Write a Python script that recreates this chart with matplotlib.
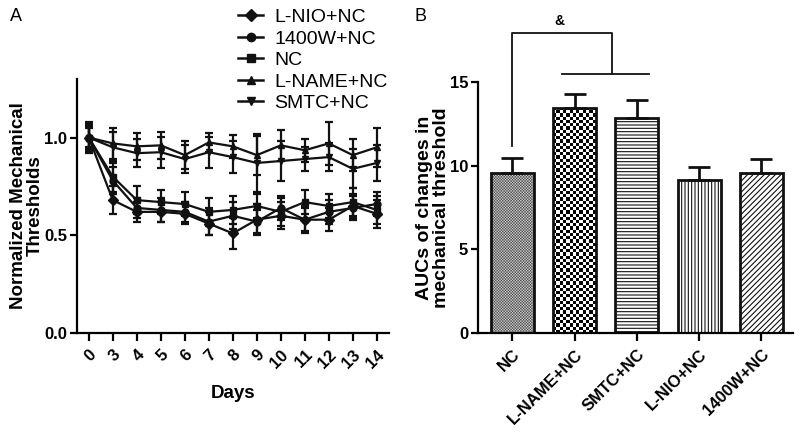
import numpy as np
import matplotlib
matplotlib.use("Agg")
import matplotlib.pyplot as plt
from matplotlib.lines import Line2D

plt.rcParams['font.family'] = ['Liberation Sans', 'DejaVu Sans']
plt.rcParams['hatch.linewidth'] = 0.8

# ---------------- data: panel A ----------------
days = ["0", "3", "4", "5", "6", "7", "8", "9", "10", "11", "12", "13", "14"]
lnio = [1.00, 0.68, 0.62, 0.62, 0.61, 0.56, 0.51, 0.58, 0.60, 0.58, 0.58, 0.65, 0.61]
lnio_err = [0.06, 0.07, 0.05, 0.05, 0.05, 0.06, 0.08, 0.08, 0.07, 0.06, 0.06, 0.06, 0.07]
w1400 = [1.00, 0.78, 0.64, 0.63, 0.62, 0.57, 0.60, 0.57, 0.64, 0.58, 0.62, 0.64, 0.66]
w1400_err = [0.05, 0.07, 0.05, 0.06, 0.05, 0.07, 0.07, 0.06, 0.06, 0.07, 0.06, 0.06, 0.06]
nc = [1.00, 0.80, 0.68, 0.67, 0.66, 0.62, 0.63, 0.65, 0.62, 0.67, 0.65, 0.67, 0.63]
nc_err = [0.08, 0.08, 0.07, 0.06, 0.06, 0.07, 0.07, 0.06, 0.07, 0.06, 0.06, 0.07, 0.07]
lname = [1.00, 0.97, 0.955, 0.96, 0.91, 0.975, 0.955, 0.91, 0.96, 0.935, 0.97, 0.91, 0.95]
lname_err = [0.06, 0.08, 0.07, 0.07, 0.07, 0.05, 0.06, 0.10, 0.08, 0.06, 0.11, 0.08, 0.10]
smtc = [1.00, 0.95, 0.92, 0.925, 0.89, 0.925, 0.90, 0.87, 0.88, 0.89, 0.90, 0.84, 0.87]
smtc_err = [0.07, 0.08, 0.07, 0.08, 0.07, 0.08, 0.08, 0.15, 0.10, 0.06, 0.07, 0.10, 0.09]

series = [
    ("L-NIO+NC", lnio, lnio_err, "D"),
    ("1400W+NC", w1400, w1400_err, "o"),
    ("NC", nc, nc_err, "s"),
    ("L-NAME+NC", lname, lname_err, "^"),
    ("SMTC+NC", smtc, smtc_err, "v"),
]

# ---------------- data: panel B ----------------
groups = ["NC", "L-NAME+NC", "SMTC+NC", "L-NIO+NC", "1400W+NC"]
auc = [9.58, 13.45, 12.85, 9.15, 9.58]
auc_err = [0.90, 0.85, 1.05, 0.80, 0.82]

fig = plt.figure(figsize=(8, 4.43), dpi=100)

# ---------------- panel A ----------------
axA = fig.add_axes([0.096, 0.248, 0.390, 0.574])
x = np.arange(len(days))
for name, vals, err, m in series:
    axA.errorbar(x, vals, yerr=err, color='#111111', marker=m, markersize=5,
                 linewidth=1.6, elinewidth=1.6, capsize=3, capthick=1.6, label=name)
axA.set_xlim(-0.5, len(days) - 0.5)
axA.set_ylim(0, 1.3)
axA.set_yticks([0.0, 0.5, 1.0])
axA.set_yticklabels(["0.0", "0.5", "1.0"], fontsize=12, fontweight='bold')
axA.set_xticks(x)
axA.set_xticklabels(days, rotation=45, fontsize=12, fontweight='bold',
                    ha='right', rotation_mode='anchor')
axA.spines['top'].set_visible(False)
axA.spines['right'].set_visible(False)
for s in ['left', 'bottom']:
    axA.spines[s].set_linewidth(1.6)
axA.tick_params(width=1.6, length=5, direction='out', pad=2)
axA.tick_params(axis='x', length=6, pad=4)
axA.set_xlabel("Days", fontsize=13.5, fontweight='bold', labelpad=10)
axA.set_ylabel("Normalized Mechanical\nThresholds", fontsize=13.5, fontweight='bold',
               linespacing=1.0, labelpad=0)

handles = [Line2D([0], [0], color='#111111', marker=m, markersize=6, linewidth=1.8)
           for _, _, _, m in series]
fig.legend(handles, [s[0] for s in series], loc='upper left',
           bbox_to_anchor=(0.288, 0.998), frameon=False, fontsize=14,
           handlelength=1.3, handletextpad=0.55, labelspacing=0.2, borderaxespad=0)

fig.text(0.012, 0.963, "A", fontsize=13, va='center')
fig.text(0.518, 0.963, "B", fontsize=13, va='center')

# ---------------- panel B ----------------
axB = fig.add_axes([0.5975, 0.248, 0.394, 0.567])
xb = np.arange(len(groups))
bars = axB.bar(xb, auc, width=0.69, facecolor='white', edgecolor='#111111',
               linewidth=2.0, zorder=2)
hatches = [None, None, '-----', '|||||', '//////']
for b, h in zip(bars, hatches):
    if h:
        b.set_hatch(h)
axB.errorbar(xb, auc, yerr=[np.zeros(len(auc)), auc_err], fmt='none',
             ecolor='#111111', elinewidth=2.0, capsize=8, capthick=2.0, zorder=3)
axB.set_xlim(-0.55, len(groups) - 0.49)
axB.set_ylim(0, 15)
axB.set_yticks([0, 5, 10, 15])
axB.set_yticklabels(["0", "5", "10", "15"], fontsize=12, fontweight='bold')
axB.set_xticks(xb)
axB.set_xticklabels(groups, rotation=45, fontsize=12, fontweight='bold',
                    ha='right', rotation_mode='anchor')
axB.spines['top'].set_visible(False)
axB.spines['right'].set_visible(False)
for s in ['left', 'bottom']:
    axB.spines[s].set_linewidth(1.6)
axB.tick_params(width=1.6, length=5, direction='out', pad=2)
axB.tick_params(axis='x', length=6, pad=4)
axB.set_ylabel("AUCs of changes in\nmechanical threshold", fontsize=14,
               fontweight='bold', linespacing=1.0, labelpad=0)

# checkerboard fills (NC fine, L-NAME coarse)
fig.canvas.draw()
for idx, sq in [(0, 1.4), (1, 3.2)]:
    b = bars[idx]
    x0, y0 = b.get_x(), b.get_y()
    x1, y1 = x0 + b.get_width(), y0 + b.get_height()
    p0 = axB.transData.transform((x0, y0))
    p1 = axB.transData.transform((x1, y1))
    nx = max(1, int(round((p1[0] - p0[0]) / sq)))
    ny = max(1, int(round((p1[1] - p0[1]) / sq)))
    checker = (np.add.outer(np.arange(ny), np.arange(nx)) % 2).astype(float)
    if idx == 0:
        checker = 0.25 + 0.6 * checker
    im = axB.imshow(checker, extent=(x0, x1, y0, y1), cmap='gray', vmin=0, vmax=1,
                    interpolation='antialiased' if idx == 0 else 'nearest',
                    aspect='auto', zorder=1.5)
    im.set_clip_path(b)
    b.set_facecolor('none')
axB.set_xlim(-0.55, len(groups) - 0.49)
axB.set_ylim(0, 15)

# significance bracket
y_top = 17.9
y_sub = 15.5
axB.plot([0, 0, 1.6, 1.6], [11.2, y_top, y_top, y_sub], color='#111111',
         linewidth=1.3, clip_on=False)
axB.plot([0.8, 2.2], [y_sub, y_sub], color='#111111', linewidth=1.3, clip_on=False)
axB.text(0.75, y_top + 0.3, "&", ha='center', va='bottom', fontsize=10, fontweight='bold')

fig.savefig("out.png", dpi=100)
